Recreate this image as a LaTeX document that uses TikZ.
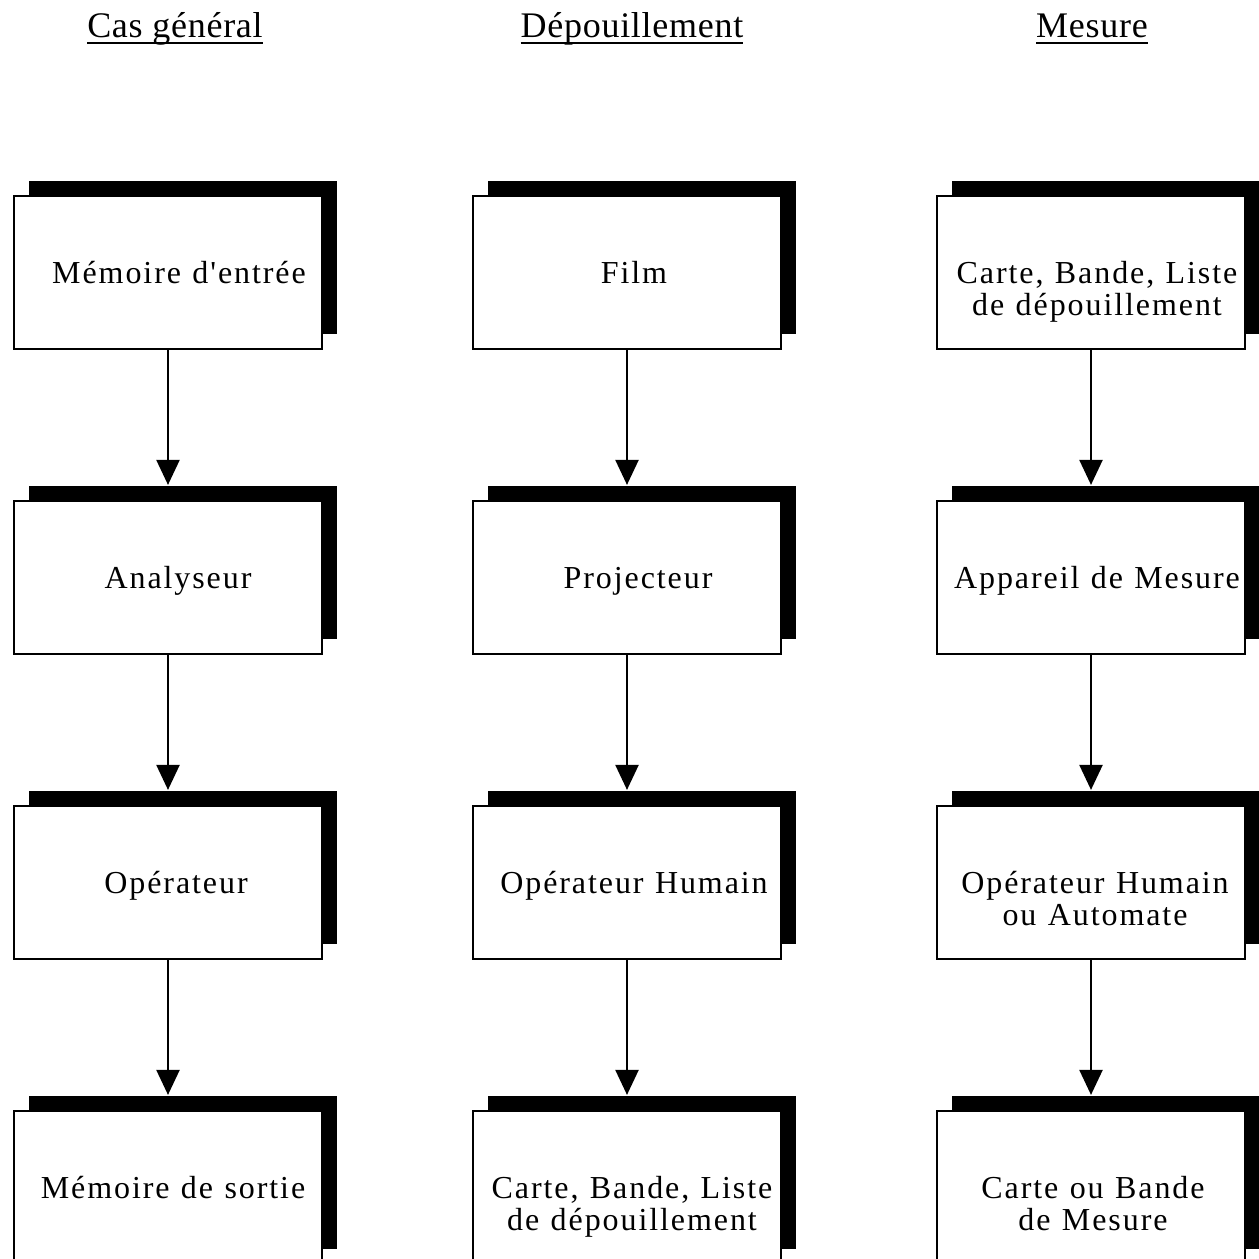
\documentclass[tikz,border=0pt]{standalone}
\usepackage{fontspec}
\setmainfont{Liberation Serif}
\newfontfamily\boxfont[LetterSpace=6,WordSpace=1.15]{Liberation Serif}
\newfontfamily\headfont[LetterSpace=2]{Liberation Serif}
\usetikzlibrary{arrows.meta,shadows}

\tikzset{
  stage/.style={draw, line width=2.2pt, fill=white, minimum width=308pt,
    minimum height=153pt, inner sep=0pt,
    drop shadow={shadow xshift=15pt, shadow yshift=15pt, fill=black, opacity=1}},
  label/.style={anchor=base, align=center, inner sep=0pt,
    font=\boxfont\fontsize{32pt}{32pt}\selectfont},
  heading/.style={anchor=base, inner sep=0pt,
    font=\headfont\fontsize{36pt}{38pt}\selectfont},
  flow/.style={line width=2.2pt, -{Triangle[length=25pt,width=23pt]}},
}

\begin{document}
\begin{tikzpicture}[x=1pt,y=-1pt]
\useasboundingbox (0,0) rectangle (1259,1259);
\fill[white] (0,0) rectangle (1259,1259);
\clip (0,0) rectangle (1259,1259);

% column headings
\node[heading] (h1) at (175,37) {Cas  général};
\node[heading] (h2) at (632,37) {Dépouillement};
\node[heading] (h3) at (1092,37) {Mesure};
\foreach \h in {h1,h2,h3}
  \draw[line width=2pt] ([yshift=-6pt]\h.base west) -- ([yshift=-6pt]\h.base east);

% boxes: columns at x = 168, 627, 1091; rows with tops at 196, 501, 806, 1111
\node[stage] (a1) at (168,272.5) {};
\node[stage] (a2) at (168,577.5) {};
\node[stage] (a3) at (168,882.5) {};
\node[stage] (a4) at (168,1187.5) {};
\node[stage] (b1) at (627,272.5) {};
\node[stage] (b2) at (627,577.5) {};
\node[stage] (b3) at (627,882.5) {};
\node[stage] (b4) at (627,1187.5) {};
\node[stage] (c1) at (1091,272.5) {};
\node[stage] (c2) at (1091,577.5) {};
\node[stage] (c3) at (1091,882.5) {};
\node[stage] (c4) at (1091,1187.5) {};

% texts (anchored on the baseline of the last line)
\node[label] (ta1) at (179,283) {Mémoire d'entrée};
\node[label] (ta2) at (178,588) {Analyseur};
\node[label] (ta3) at (176,893) {Opérateur};
\node[label] (ta4) at (173,1198) {Mémoire de sortie};
\node[label] (tb1) at (634,283) {Film};
\node[label] (tb2) at (638,588) {Projecteur};
\node[label] (tb3) at (634,893) {Opérateur Humain};
\node[label] (tb4) at (632,1230) {Carte, Bande, Liste\\de dépouillement};
\node[label] (tc1) at (1097,315) {Carte, Bande, Liste\\de dépouillement};
\node[label] (tc2) at (1097,588) {Appareil de Mesure};
\node[label] (tc3) at (1095,925) {Opérateur Humain\\ou Automate};
\node[label] (tc4) at (1093,1230) {Carte ou Bande\\de Mesure};

% connectors: from box bottom to the top of the next box's shadow
\foreach \u/\v in {a1/a2,a2/a3,a3/a4,b1/b2,b2/b3,b3/b4,c1/c2,c2/c3,c3/c4}
  \draw[flow] (\u.south) -- ([yshift=15pt]\v.north);
\end{tikzpicture}
\end{document}
